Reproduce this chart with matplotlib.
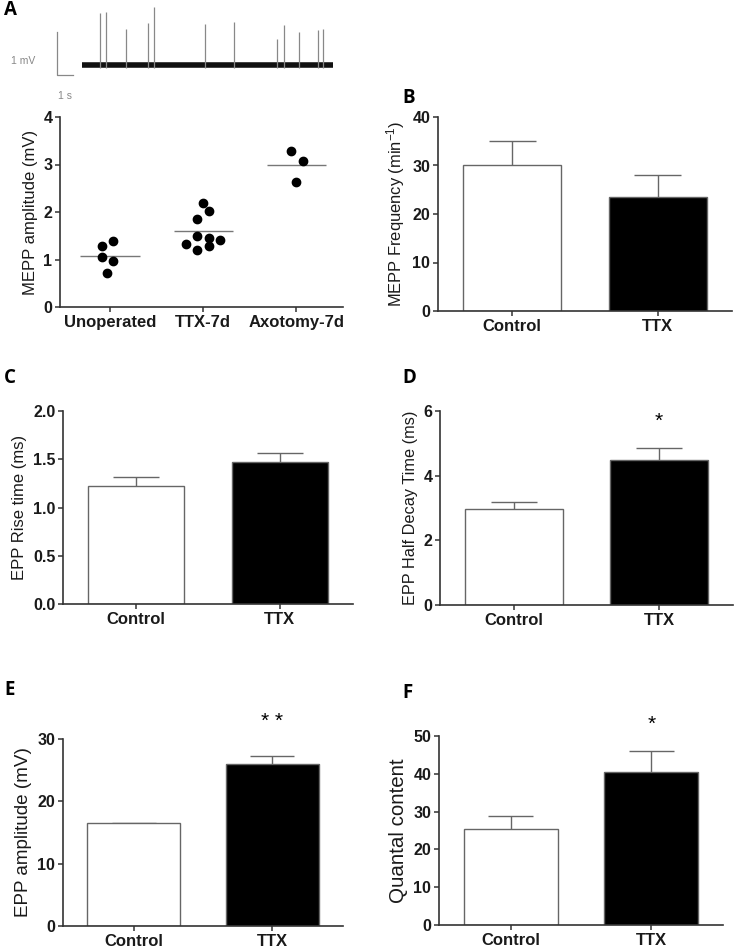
import numpy as np
import matplotlib
matplotlib.use('Agg')
import matplotlib.pyplot as plt

plt.rcParams['font.family'] = ['Liberation Sans', 'DejaVu Sans']
plt.rcParams['mathtext.default'] = 'regular'

# ---- data ----
# panel A trace: spike times (s) and amplitudes (mV) above baseline
spike_times = [1.12, 1.5, 2.75, 4.12, 4.5, 7.69, 9.5, 12.19, 12.62, 13.56, 14.75, 15.06]
spike_amps = [1.21, 1.23, 0.84, 0.98, 1.35, 0.95, 1.0, 0.6, 0.93, 0.77, 0.81, 0.84]
trace_len = 15.7

# panel A scatter
groups_a = ['Unoperated', 'TTX-7d', 'Axotomy-7d']
unoperated = [1.28, 1.40, 1.05, 0.96, 0.72]
ttx_7d = [2.18, 2.02, 1.85, 1.49, 1.45, 1.42, 1.32, 1.28, 1.20]
axotomy_7d = [3.28, 3.07, 2.63]
means_a = [1.08, 1.59, 3.0]

groups = ['Control', 'TTX']
mepp_freq = [30.1, 23.6]
mepp_freq_err = [4.9, 4.4]
rise_time = [1.22, 1.47]
rise_time_err = [0.10, 0.095]
half_decay = [2.96, 4.48]
half_decay_err = [0.22, 0.37]
epp_amp = [16.5, 26.0]
epp_amp_err = [0.1, 1.3]
quantal = [25.3, 40.4]
quantal_err = [3.6, 5.5]

# ---- layout helpers ----
W, H = 734, 948
fig = plt.figure(figsize=(W / 100, H / 100), dpi=100)


def px_axes(left, top, right, bottom):
    return fig.add_axes([left / W, 1 - bottom / H, (right - left) / W, (bottom - top) / H])


SPINE = '#333333'
EDGE = '#666666'
TEXT = '#1a1a1a'


def style_axes(ax):
    for s in ['top', 'right']:
        ax.spines[s].set_visible(False)
    for s in ['left', 'bottom']:
        ax.spines[s].set_linewidth(1.2)
        ax.spines[s].set_color(SPINE)
    ax.tick_params(direction='out', length=3.5, width=1.1, color=SPINE, pad=2)
    for lab in ax.get_yticklabels():
        lab.set_fontsize(11.5)
        lab.set_fontweight('bold')
        lab.set_color(TEXT)
    for lab in ax.get_xticklabels():
        lab.set_fontsize(12)
        lab.set_fontweight('bold')
        lab.set_color(TEXT)


def bar_panel(ax, vals, errs, ylim, yticks, ylabel, label_size, fmt='{:g}'):
    x = np.arange(len(groups))
    vals = np.array(vals)
    errs = np.array(errs)
    ax.vlines(x, vals, vals + errs, color=EDGE, lw=1.0, zorder=1)
    ax.hlines(vals + errs, x - 0.16, x + 0.16, color=EDGE, lw=1.0, zorder=1)
    ax.bar(x, vals, width=0.67, color=['white', 'black'], edgecolor=EDGE,
           linewidth=1.0, zorder=2)
    ax.set_xlim(-0.51, 1.51)
    ax.set_ylim(*ylim)
    ax.set_yticks(yticks)
    ax.set_yticklabels([fmt.format(t) for t in yticks])
    ax.set_xticks(x)
    ax.set_xticklabels(groups)
    ax.set_ylabel(ylabel, fontsize=label_size, color=TEXT, labelpad=4)
    style_axes(ax)


def panel_letter(x, y, s):
    fig.text(x / W, 1 - y / H, s, fontsize=13.5, fontweight='bold',
             family=['Open Sans', 'DejaVu Sans'], va='top', ha='left')


# ---- panel A trace ----
axt = px_axes(0, 0, 370, 105)
axt.set_xlim(-82 / 16, (370 - 82) / 16)
axt.set_ylim(-40 / 43, 65 / 43)
axt.axis('off')
axt.plot([0, trace_len], [0, 0], color='#111111', lw=4, solid_capstyle='butt')
axt.vlines(spike_times, -0.08, spike_amps, color='#888888', lw=0.9)
axt.plot([-1.56, -1.56, -0.56], [0.77, -0.23, -0.23], color='#888888', lw=0.9)
axt.text(-2.95, 0.09, '1 mV', fontsize=7.5, color='#888888', ha='right', va='center')
axt.text(-1.06, -0.72, '1 s', fontsize=7.5, color='#888888', ha='center', va='center')

# ---- panel A scatter ----
axa = px_axes(60, 117, 343, 307)
jit_unop = [-0.086, 0.03, -0.086, 0.03, -0.03]
jit_ttx = [0.0, 0.057, -0.068, -0.068, 0.057, 0.176, -0.186, 0.057, -0.068]
jit_axo = [-0.057, 0.065, 0.0]
for i, (pts, jit) in enumerate([(unoperated, jit_unop), (ttx_7d, jit_ttx), (axotomy_7d, jit_axo)]):
    axa.plot(i + np.array(jit), pts, 'o', color='black', markersize=6, zorder=3)
    axa.hlines(means_a[i], i - 0.32, i + 0.32, color='#777777', lw=1.0, zorder=2)
axa.set_xlim(-0.54, 2.5)
axa.set_ylim(0, 4)
axa.set_yticks([0, 1, 2, 3, 4])
axa.set_xticks([0, 1, 2])
axa.set_xticklabels(groups_a)
axa.set_ylabel('MEPP amplitude (mV)', fontsize=12, color=TEXT, labelpad=4)
style_axes(axa)

# ---- bar panels ----
axb = px_axes(438, 117, 732, 311)
bar_panel(axb, mepp_freq, mepp_freq_err, (0, 40), [0, 10, 20, 30, 40],
          'MEPP Frequency (min$^{-1}$)', 11.9)

axc = px_axes(63, 411, 353, 604)
bar_panel(axc, rise_time, rise_time_err, (0, 2.0), [0, 0.5, 1.0, 1.5, 2.0],
          'EPP Rise time (ms)', 12, fmt='{:.1f}')

axd = px_axes(440, 411, 733, 605)
bar_panel(axd, half_decay, half_decay_err, (0, 6), [0, 2, 4, 6],
          'EPP Half Decay Time (ms)', 11.7)
axd.text(1, half_decay[1] + half_decay_err[1] + 0.83, '*', ha='center', va='center', fontsize=15)

axe = px_axes(63, 739, 343, 926)
bar_panel(axe, epp_amp, epp_amp_err, (0, 30), [0, 10, 20, 30],
          'EPP amplitude (mV)', 13.6)
axe.text(1, epp_amp[1] + epp_amp_err[1] + 5.5, '* *', ha='center', va='center', fontsize=15)

axf = px_axes(439, 736, 723, 925)
bar_panel(axf, quantal, quantal_err, (0, 50), [0, 10, 20, 30, 40, 50],
          'Quantal content', 14.8)
axf.text(1, quantal[1] + quantal_err[1] + 7.2, '*', ha='center', va='center', fontsize=15)

# ---- panel letters ----
panel_letter(4, 0, 'A')
panel_letter(402, 88, 'B')
panel_letter(4, 368, 'C')
panel_letter(402, 368, 'D')
panel_letter(4, 680, 'E')
panel_letter(402, 683, 'F')

fig.savefig('out.png', dpi=100)
